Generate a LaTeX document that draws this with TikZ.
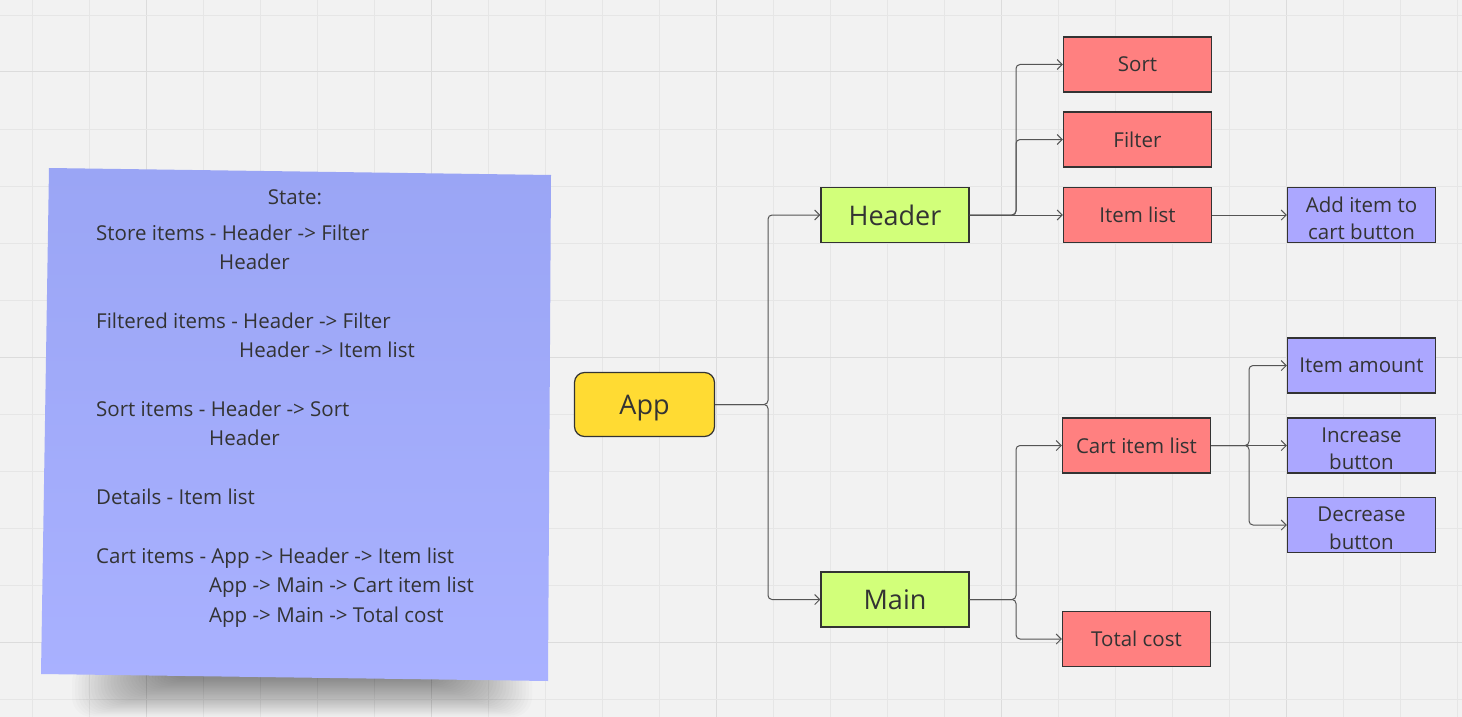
\documentclass[tikz,border=0pt]{standalone}
\usepackage{fontspec}
\setmainfont{Open Sans}
\usetikzlibrary{arrows.meta}
\definecolor{bgc}{HTML}{F2F2F2}
\definecolor{gridc}{HTML}{E6E6E6}
\definecolor{gridmaj}{HTML}{DCDCDC}
\definecolor{appfill}{HTML}{FFDB33}
\definecolor{greenfill}{HTML}{D2FF7A}
\definecolor{redfill}{HTML}{FF8080}
\definecolor{purplefill}{HTML}{ABA7FF}
\definecolor{stickytop}{HTML}{9AA5F5}
\definecolor{stickybot}{HTML}{A9B1FF}
\definecolor{txt}{HTML}{333333}
\definecolor{edgec}{HTML}{333333}
\definecolor{linec}{HTML}{555555}
\tikzset{
  box/.style={draw=edgec, line width=1.2pt, minimum width=148pt, minimum height=55pt, inner sep=0pt, text=txt, font=\fontsize{20.5}{27.5}\selectfont},
  redbox/.style={box, fill=redfill},
  purplebox/.style={box, fill=purplefill},
  greenbox/.style={box, fill=greenfill, font=\fontsize{27}{30}\selectfont},
  twolbl/.style={inner sep=0pt, align=center, text=txt, font=\fontsize{20.5}{27.5}\selectfont, yshift=-3.5pt},
  conn/.style={draw=linec, line width=1pt, rounded corners=4pt, -{Straight Barb[length=5pt,width=10pt]}},
  notetext/.style={anchor=base west, inner sep=0pt, text=txt, font=\fontsize{20.5}{24}\selectfont}
}
\begin{document}
\begin{tikzpicture}[x=1pt,y=-1pt]
\useasboundingbox (0,0) rectangle (1462,717);
\fill[bgc] (0,0) rectangle (1462,717);
% grid
\foreach \k in {0,...,25} {
  \pgfmathtruncatemacro{\m}{mod(\k+3,5)}
  \ifnum\m=0 \draw[gridmaj, line width=1pt] ({32+57*\k},0) -- ({32+57*\k},717);
  \else \draw[gridc, line width=0.8pt] ({32+57*\k},0) -- ({32+57*\k},717); \fi
}
\foreach \k in {0,...,12} {
  \pgfmathtruncatemacro{\m}{mod(\k+4,5)}
  \ifnum\m=0 \draw[gridmaj, line width=1pt] (0,{15+57*\k}) -- (1462,{15+57*\k});
  \else \draw[gridc, line width=0.8pt] (0,{15+57*\k}) -- (1462,{15+57*\k}); \fi
}
% sticky note shadow
\foreach \i in {0,...,29} {
  \fill[black, opacity=0.014, rounded corners=20pt]
    ({72+3.2*\i},{662}) rectangle ({532-3.2*\i},{717-1.3*\i});
}
% sticky note
\shade[top color=stickytop, bottom color=stickybot]
  (49,168) -- (551,175) -- (548,681) -- (41,674) -- cycle;
\node[anchor=base, inner sep=0pt, text=txt, font=\fontsize{20.5}{24}\selectfont] (stitle) at (295,204) {State:};
\node[notetext] (n1) at (96,240) {Store items - Header -> Filter};
\node[notetext] (n2) at (219,269) {Header};
\node[notetext] (n3) at (96,328) {Filtered items - Header -> Filter};
\node[notetext] (n4) at (239,357) {Header -> Item list};
\node[notetext] (n5) at (96,416) {Sort items - Header -> Sort};
\node[notetext] (n6) at (209,445) {Header};
\node[notetext] (n7) at (96,504) {Details - Item list};
\node[notetext] (n8) at (96,563) {Cart items - App -> Header -> Item list};
\node[notetext] (n9) at (209,592) {App -> Main -> Cart item list};
\node[notetext] (n10) at (209,622) {App -> Main -> Total cost};
% nodes
\node[box, fill=appfill, rounded corners=10pt, minimum width=140pt, minimum height=64pt, text depth=0pt, font=\fontsize{27}{30}\selectfont] (app) at (644.5,404.5) {App};
\node[greenbox] (header) at (895,215) {Header};
\node[greenbox] (main) at (895,599.5) {Main};
\node[redbox] (sort) at (1137.5,64.5) {Sort};
\node[redbox] (filter) at (1137.5,139.5) {Filter};
\node[redbox] (itemlist) at (1137.5,215) {Item list};
\node[purplebox, label={[twolbl]center:Add item to\\cart button}] (additem) at (1361.5,215) {};
\node[purplebox] (itemamount) at (1361.5,365.5) {Item amount};
\node[redbox] (cartlist) at (1136.5,445.5) {Cart item list};
\node[purplebox, label={[twolbl]center:Increase\\button}] (increase) at (1361.5,445.5) {};
\node[purplebox, label={[twolbl]center:Decrease\\button}] (decrease) at (1361.5,525) {};
\node[redbox] (total) at (1136.5,639) {Total cost};
% junctions
\coordinate (j1) at (768,404.5);
\coordinate (j2) at (1016,215);
\coordinate (j3) at (1016,599.5);
\coordinate (j4) at (1249,445.5);
% connectors
\draw[conn] (app.east) -- (j1) |- (header.west);
\draw[conn] (app.east) -- (j1) |- (main.west);
\draw[conn] (header.east) -- (j2) |- (sort.west);
\draw[conn] (header.east) -- (j2) |- (filter.west);
\draw[conn] (header.east) -- (itemlist.west);
\draw[conn] (itemlist.east) -- (additem.west);
\draw[conn] (main.east) -- (j3) |- (cartlist.west);
\draw[conn] (main.east) -- (j3) |- (total.west);
\draw[conn] (cartlist.east) -- (j4) |- (itemamount.west);
\draw[conn] (cartlist.east) -- (increase.west);
\draw[conn] (cartlist.east) -- (j4) |- (decrease.west);
\end{tikzpicture}
\end{document}
